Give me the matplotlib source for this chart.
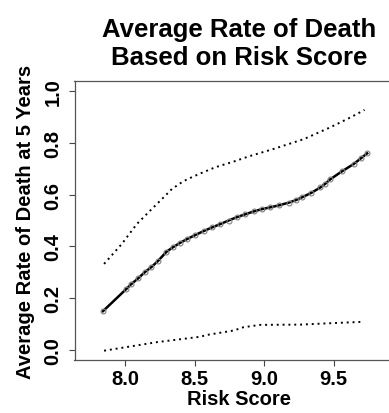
import matplotlib
matplotlib.use('Agg')
import matplotlib.pyplot as plt

plt.rcParams['font.family'] = ['Liberation Sans', 'DejaVu Sans']

# mean curve
risk_mean = [7.841, 8.009, 8.045, 8.094, 8.142, 8.190, 8.238, 8.298, 8.346, 8.394,
             8.442, 8.502, 8.565, 8.625, 8.685, 8.745, 8.805, 8.865, 8.925, 8.985,
             9.045, 9.110, 9.177, 9.230, 9.274, 9.340, 9.406, 9.440, 9.478, 9.560,
             9.646, 9.700, 9.742]
rate_mean = [0.149, 0.235, 0.254, 0.276, 0.300, 0.320, 0.344, 0.379, 0.397, 0.413,
             0.427, 0.443, 0.459, 0.473, 0.486, 0.500, 0.513, 0.524, 0.535, 0.544,
             0.551, 0.559, 0.569, 0.579, 0.590, 0.607, 0.628, 0.642, 0.660, 0.690,
             0.719, 0.742, 0.760]

# upper / lower bands
risk_upper = [7.849, 7.976, 8.084, 8.180, 8.265, 8.337, 8.400, 8.445, 8.541, 8.649,
              8.781, 8.889, 9.069, 9.286, 9.478, 9.622, 9.723]
rate_upper = [0.332, 0.409, 0.486, 0.538, 0.583, 0.622, 0.645, 0.659, 0.682, 0.706,
              0.728, 0.748, 0.777, 0.815, 0.861, 0.899, 0.928]
risk_lower = [7.849, 8.228, 8.541, 8.589, 8.781, 8.853, 8.973, 9.262, 9.502, 9.719]
rate_lower = [-0.004, 0.029, 0.050, 0.057, 0.074, 0.087, 0.096, 0.097, 0.103, 0.108]

x_ticks = [8.0, 8.5, 9.0, 9.5]
y_ticks = [0.0, 0.2, 0.4, 0.6, 0.8, 1.0]

fig = plt.figure(figsize=(3.89, 4.14), dpi=100)
ax = fig.add_axes([74.5 / 389, 1 - 361 / 414, (403 - 74.5) / 389, (361 - 82) / 414])

ax.plot(risk_mean, rate_mean, color='black', linewidth=1.8, marker='o', markersize=3.5,
        markerfacecolor='none', markeredgecolor='#808080', markeredgewidth=0.8)
ax.plot(risk_upper, rate_upper, color='black', linewidth=1.4, linestyle=(0, (1, 2.0)))
ax.plot(risk_lower, rate_lower, color='black', linewidth=1.4, linestyle=(0, (1, 2.0)))

ax.set_xlim(7.636, 10.0)
ax.set_ylim(-0.04, 1.04)
ax.set_xticks(x_ticks)
ax.set_xticklabels([f"{v:.1f}" for v in x_ticks], fontsize=14.5, fontweight='bold')
ax.set_yticks(y_ticks)
ax.set_yticklabels([f"{v:.1f}" for v in y_ticks], fontsize=14.5, fontweight='bold',
                   rotation=90, va='center')
ax.tick_params(direction='out', length=4.5, width=0.8, color='#444444')
ax.tick_params(axis='x', pad=2)
ax.tick_params(axis='y', pad=4)

for spine in ax.spines.values():
    spine.set_color('#555555')
    spine.set_linewidth(0.9)

ax.set_xlabel("Risk Score", fontsize=14.5, fontweight='bold', labelpad=1)
ax.set_ylabel("Average Rate of Death at 5 Years", fontsize=14.5, fontweight='bold', labelpad=6)
ax.set_title("Average Rate of Death\nBased on Risk Score", fontsize=18.5, fontweight='bold',
             pad=12, linespacing=1.25)

fig.savefig("out.png", dpi=100, facecolor='white')
